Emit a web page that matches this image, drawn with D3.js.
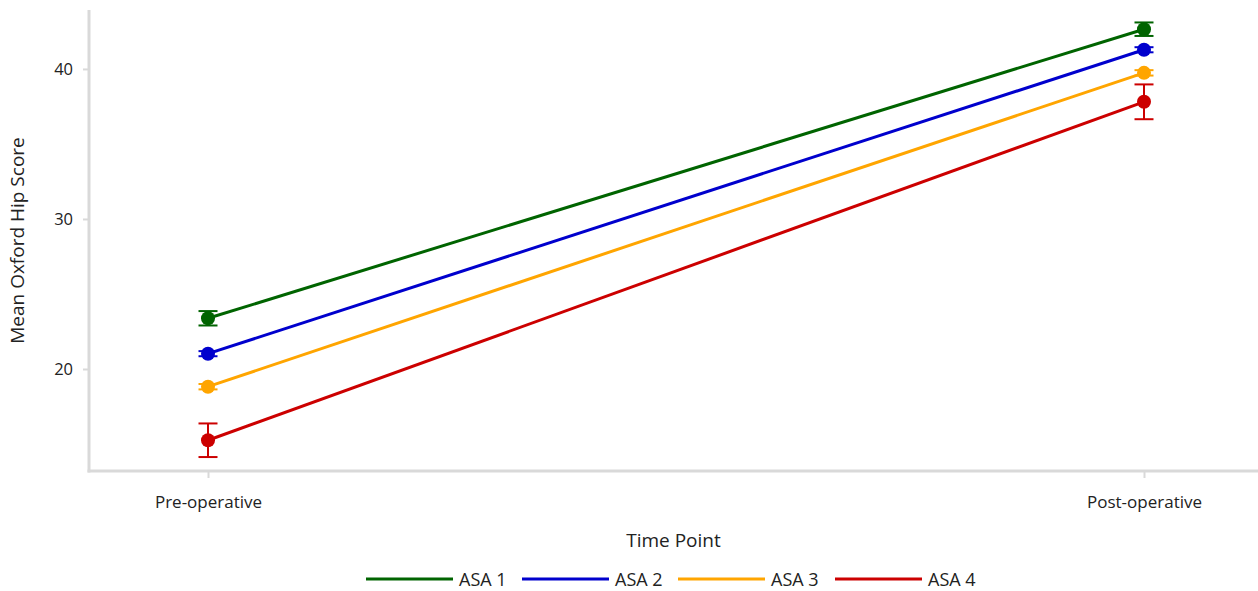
<!DOCTYPE html>
<html>
<head>
<meta charset="utf-8">
<script src="https://cdn.jsdelivr.net/npm/d3@7"></script>
<style>
  html, body { margin: 0; padding: 0; background: #fff; }
  svg { display: block; font-family: "Open Sans", "Noto Sans", sans-serif; }
</style>
</head>
<body>
<svg id="chart" width="1258" height="591"></svg>
<script>
// Mean Oxford Hip Score by ASA grade, before and after surgery
const timePoints = ["Pre-operative", "Post-operative"];
const groups = ["ASA 1", "ASA 2", "ASA 3", "ASA 4"];
const colors = ["#006400", "#0000cd", "#ffa500", "#cc0000"];
const means = [
  [23.38, 42.65],
  [21.02, 41.28],
  [18.82, 39.74],
  [15.25, 37.81]
];
const errors = [
  [0.48, 0.45],
  [0.17, 0.17],
  [0.18, 0.18],
  [1.12, 1.16]
];
const yTicks = [20, 30, 40];

const FONT = '"Open Sans", "Noto Sans", sans-serif';
const svg = d3.select("#chart");
const plotLeft = 89, plotRight = 1258, plotTop = 10, plotBottom = 471;

const x = d3.scalePoint().domain(timePoints).range([208, 1144]);
const y = d3.scaleLinear().domain([13.2, 43.93]).range([plotBottom, plotTop]);

const axisColor = "#d9d9d9";
const textColor = "#222";

// y axis
const yAxis = svg.append("g")
  .attr("transform", `translate(${plotLeft},0)`)
  .call(d3.axisLeft(y).tickValues(yTicks).tickSize(6).tickPadding(10).tickFormat(d3.format("d")));
yAxis.attr("font-family", FONT);
yAxis.select(".domain").remove();
yAxis.selectAll(".tick line").attr("stroke", axisColor).attr("stroke-width", 2);
yAxis.selectAll(".tick text").attr("fill", textColor).style("font-size", "16.5px");
svg.append("line")
  .attr("x1", plotLeft).attr("x2", plotLeft).attr("y1", plotTop).attr("y2", plotBottom + 1.5)
  .attr("stroke", axisColor).attr("stroke-width", 3);

// x axis
const xAxis = svg.append("g")
  .attr("transform", `translate(0,${plotBottom})`)
  .call(d3.axisBottom(x).tickSize(7).tickPadding(18));
xAxis.attr("font-family", FONT);
xAxis.select(".domain").remove();
xAxis.selectAll(".tick line").attr("stroke", axisColor).attr("stroke-width", 2);
xAxis.selectAll(".tick text").attr("fill", textColor).style("font-size", "17px");
svg.append("line")
  .attr("x1", plotLeft - 1.5).attr("x2", plotRight).attr("y1", plotBottom).attr("y2", plotBottom)
  .attr("stroke", axisColor).attr("stroke-width", 3);

// axis titles
svg.append("text")
  .attr("x", (plotLeft + plotRight) / 2).attr("y", 547)
  .attr("text-anchor", "middle").attr("fill", textColor)
  .style("font-size", "19px").text("Time Point");
svg.append("text")
  .attr("transform", `translate(24,${(plotTop + plotBottom) / 2}) rotate(-90)`)
  .attr("text-anchor", "middle").attr("fill", textColor)
  .style("font-size", "19px").text("Mean Oxford Hip Score");

// series
const line = d3.line().x((d, i) => x(timePoints[i])).y(d => y(d));
groups.forEach((g, gi) => {
  const s = svg.append("g");
  s.append("path")
    .attr("d", line(means[gi]))
    .attr("fill", "none").attr("stroke", colors[gi]).attr("stroke-width", 3);
  means[gi].forEach((m, ti) => {
    const cx = x(timePoints[ti]);
    const e = errors[gi][ti];
    const y0 = y(m - e), y1 = y(m + e);
    s.append("line").attr("x1", cx).attr("x2", cx).attr("y1", y0).attr("y2", y1)
      .attr("stroke", colors[gi]).attr("stroke-width", 2);
    [y0, y1].forEach(yy => s.append("line")
      .attr("x1", cx - 9.5).attr("x2", cx + 9.5).attr("y1", yy).attr("y2", yy)
      .attr("stroke", colors[gi]).attr("stroke-width", 2));
    s.append("circle").attr("cx", cx).attr("cy", y(m)).attr("r", 7)
      .attr("fill", colors[gi]);
  });
});

// legend
const legendX = [366, 522, 678, 835];
const legend = svg.append("g").attr("transform", "translate(0,579)");
groups.forEach((g, gi) => {
  legend.append("line")
    .attr("x1", legendX[gi]).attr("x2", legendX[gi] + 87)
    .attr("y1", 0).attr("y2", 0)
    .attr("stroke", colors[gi]).attr("stroke-width", 3);
  legend.append("text")
    .attr("x", legendX[gi] + 93).attr("y", 7)
    .attr("fill", textColor).style("font-size", "18px").text(g);
});
</script>
</body>
</html>
